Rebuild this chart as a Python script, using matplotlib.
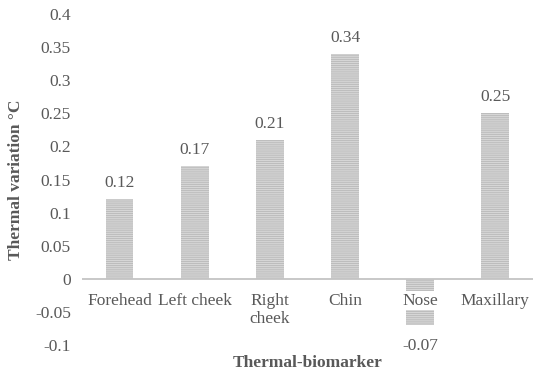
import numpy as np
import matplotlib
matplotlib.use("Agg")
import matplotlib.pyplot as plt

# data
categories = ['Forehead', 'Left cheek', 'Right\ncheek', 'Chin', 'Nose', 'Maxillary']
values = [0.12, 0.17, 0.21, 0.34, -0.07, 0.25]
yticks = [-0.1, -0.05, 0, 0.05, 0.1, 0.15, 0.2, 0.25, 0.3, 0.35, 0.4]
ytick_labels = ['-0.1', '-0.05', '0', '0.05', '0.1', '0.15', '0.2', '0.25', '0.3', '0.35', '0.4']

plt.rcParams['font.family'] = ['Liberation Serif', 'DejaVu Serif']
plt.rcParams['hatch.linewidth'] = 0.6
txt = '#595959'

fig = plt.figure(figsize=(5.5, 3.79), dpi=100)
ax = fig.add_axes([0.149, 0.0897, 0.82, 0.8733])

x = np.arange(len(categories))
ax.bar(x, values, width=0.37, color='#d6d6d6', edgecolor='#b9b9b9',
       hatch='--------', linewidth=0, zorder=2)

ax.set_xlim(-0.5, len(categories) - 0.5)
ax.set_ylim(-0.1, 0.4)
ax.set_yticks(yticks)
ax.set_yticklabels(ytick_labels, color=txt, fontsize=12.5)
ax.tick_params(axis='y', length=0, pad=8)
ax.set_xticks([])
for s in ax.spines.values():
    s.set_visible(False)
ax.axhline(0, color='#c4c4c4', lw=1.3, zorder=3)

# category labels near the zero line
for i, c in enumerate(categories):
    ax.text(i, -0.021, c, ha='center', va='top', fontsize=12.5, color=txt,
            linespacing=1.15, zorder=4,
            bbox=dict(facecolor='white', edgecolor='none', pad=1.0) if values[i] < 0 else None)

# data labels
for i, v in enumerate(values):
    if v >= 0:
        ax.text(i, v + 0.012, f'{v:.2f}', ha='center', va='bottom', fontsize=12.5, color=txt)
    else:
        ax.text(i, v - 0.02, f'{v:.2f}', ha='center', va='top', fontsize=12.5, color=txt)

ax.set_ylabel('Thermal variation °C', fontsize=12.5, fontweight='bold', color=txt, labelpad=8)
ax.set_xlabel('Thermal-biomarker', fontsize=12.5, fontweight='bold', color=txt, labelpad=7)

fig.savefig('out.png', dpi=100)
